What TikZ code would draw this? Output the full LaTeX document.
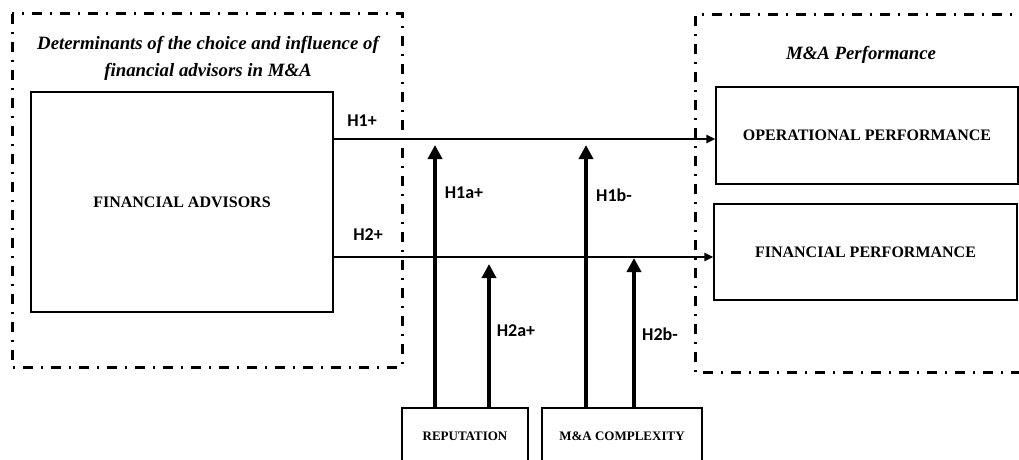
\documentclass[tikz,border=0pt]{standalone}
\usepackage{fontspec}
\setmainfont{Liberation Serif}
\newfontfamily\labfont{Carlito}
\usetikzlibrary{arrows.meta}
\begin{document}
\begin{tikzpicture}[x=1pt,y=-1pt,
  grp/.style={line width=3pt, dash pattern=on 10pt off 8pt on 2pt off 8pt},
  box/.style={draw, line width=1.4pt, inner sep=0pt, align=center, font=\bfseries\fontsize{16}{19}\selectfont},
  smallbox/.style={box, font=\bfseries\fontsize{13}{16}\selectfont},
  ttl/.style={align=center, font=\bfseries\itshape\fontsize{18.8}{27}\selectfont},
  lab/.style={font=\labfont\bfseries\fontsize{18}{20}\selectfont, inner sep=0pt},
  harr/.style={line width=2.2pt, -{Triangle[length=9pt,width=8pt]}},
  varr/.style={line width=3.8pt, -{Triangle[length=14pt,width=14pt]}}]
\useasboundingbox (0,0) rectangle (1019,460);
\clip (0,0) rectangle (1019,460);
% group frames
\draw[grp] (12,14) rectangle (402,367);
\draw[grp] (1030,15) -- (695,15) -- (695,372) -- (1030,372);
% titles
\node[ttl] (t1) at (208,58) {Determinants of the choice and influence of\\ financial advisors in M\&A};
\node[ttl] (t2) at (861,55) {M\&A Performance};
% boxes
\node[box, minimum width=302pt, minimum height=220pt] (fa) at (182,202) {FINANCIAL ADVISORS};
\node[box, minimum width=302pt, minimum height=97pt] (op) at (867,135.5) {OPERATIONAL PERFORMANCE};
\node[box, minimum width=303pt, minimum height=96pt] (fp) at (865.5,252) {FINANCIAL PERFORMANCE};
\node[smallbox, minimum width=126pt, minimum height=56pt] (rep) at (465,436) {REPUTATION};
\node[smallbox, minimum width=160pt, minimum height=56pt] (cx) at (622,436) {M\&A COMPLEXITY};
% horizontal arrows
\coordinate (y1) at (0,139);
\coordinate (y2) at (0,257);
\draw[harr] (fa.east |- y1) -- (op.west |- y1);
\draw[harr] (fa.east |- y2) -- (fp.west |- y2);
% vertical arrows
\coordinate (t1a) at (435,145);
\coordinate (t2a) at (489,264);
\coordinate (t1b) at (586,145);
\coordinate (t2b) at (634,258);
\draw[varr] (rep.north -| t1a) -- (t1a);
\draw[varr] (rep.north -| t2a) -- (t2a);
\draw[varr] (cx.north -| t1b) -- (t1b);
\draw[varr] (cx.north -| t2b) -- (t2b);
% labels
\node[lab] (l1) at (362,121) {H1+};
\node[lab] (l2) at (368,235) {H2+};
\node[lab] (l1a) at (464,193) {H1a+};
\node[lab] (l1b) at (614,195) {H1b-};
\node[lab] (l2a) at (516,331) {H2a+};
\node[lab] (l2b) at (660,334) {H2b-};
\end{tikzpicture}
\end{document}
